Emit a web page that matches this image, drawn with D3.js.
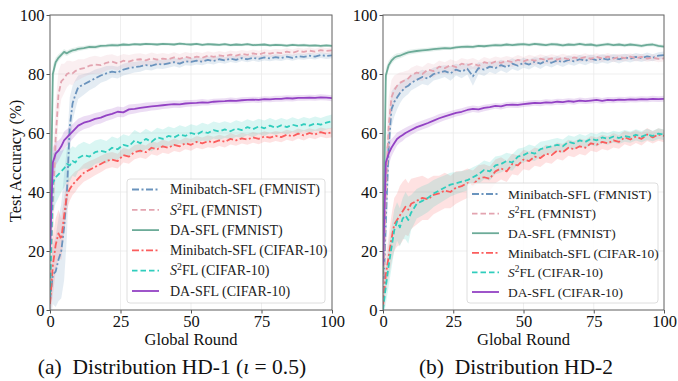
<!DOCTYPE html>
<html>
<head>
<meta charset="utf-8">
<script src="https://cdn.jsdelivr.net/npm/d3@7"></script>
<style>
  body { margin: 0; background: #fff; }
  svg { display: block; font-family: "Liberation Serif", "DejaVu Serif", serif; }
</style>
</head>
<body>
<div id="chart"></div>
<script>
const rounds = [0,1,2,3,4,5,6,7,8,9,10,
  12,14,16,18,20, 22,24,26,28,30, 32,34,36,38,40, 42,44,46,48,50,
  52,54,56,58,60, 62,64,66,68,70, 72,74,76,78,80, 82,84,86,88,90, 92,94,96,98,100];

// ---- (a) HD-1 ----
const hd1MiniF = [3,12,13,17,20,28,40,62,70,73,75.5,
  76.5,77.5,78.5,79.5,80.2, 80.8,80.5,81.5,82,82.3, 82.6,83,82.8,83.4,83.2, 83.6,84,83.5,84.3,84.1,
  84.5,84.2,84.8,84.4,85, 84.6,85.2,84.8,85.4,85, 85.5,85.1,85.6,85.3,85.7, 85.4,85.9,85.5,86,85.8, 86.2,85.9,86.4,86.1,86.3];
const hd1S2F = [5,35,58,73,77.5,78.5,80,80.5,80.2,81,81.5,
  82,82.8,83.2,83,83.8, 84.2,83.6,84.5,84.2,84.8, 85,84.6,85.3,84.9,85.2, 85,85.6,85.1,85.8,85.4,
  85.9,85.5,86.2,85.8,86.3, 86,86.6,86.2,86.8,86.5, 87,86.6,87.2,86.9,87.3, 87.1,87.6,87.2,87.8,87.5, 87.9,87.6,88.1,87.8,88];
const hd1DaF = [20,80,84,85.5,86.5,87.5,87,87.6,88,88.2,88.5,
  88.8,89.2,89.1,89.5,89.6, 89.8,89.7,90,89.9,90.1, 90,90.2,90.1,90,90.2, 90.1,90,90.3,90.1,90,
  90.2,89.9,90.1,90,89.9, 90.1,89.8,90,89.9,90.1, 89.8,89.9,90,89.7,89.9, 89.8,89.6,89.9,89.7,89.8, 89.6,89.7,89.5,89.7,89.5];
const hd1MiniC = [2,15,22,26,24,32,39,41,42.5,43.5,44.5,
  46.5,47.5,48.5,49.5,50.5, 51,50.5,52.5,52,53.5, 54,53.5,55,54.5,55.5, 55,56,55.5,56.5,56,
  57,56.5,57.2,56.8,57.5, 57,58,57.5,58.2,57.8, 58.5,58,58.8,58.4,59, 58.6,59.4,58.9,59.8,59.2, 60,59.5,60.3,59.8,60.2];
const hd1S2C = [5,43,45,46,47,48,49.5,49,50.5,50,51.5,
  52.5,52,53.5,54,53.5, 55,54.5,56,55.5,57.5, 56.5,58,57,58.5,58, 59,58.5,59.5,59,60,
  59.5,60.5,60,61,60.5, 61.2,60.6,61.5,61,62, 61.3,62.2,61.6,62.5,61.8, 62.6,62,62.8,62.3,63, 62.5,63.2,62.8,63.5,64];
const hd1DaC = [20,50,53,54,55.5,57.5,58.5,59.5,60.5,61.5,62.5,
  63.5,64,64.8,65.2,66, 66.5,67.2,67,68,68.2, 68.5,68.8,69,69.2,69.4, 69.6,69.8,69.7,70,70.1,
  70.2,70.4,70.3,70.6,70.7, 70.8,71,70.9,71.1,71.2, 71.3,71.2,71.5,71.4,71.6, 71.6,71.8,71.7,71.9,71.9, 72,71.9,72.1,72,71.8];

// std (shaded band half width)
const hd1MiniFStd = [8,10,12,14,16,18,15,10,6,5,4,
  3.5,3,3,2.5,2.5, 2,2,2,2,1.8, 1.8,1.6,1.6,1.5,1.5, 1.5,1.4,1.4,1.3,1.3,
  1.3,1.2,1.2,1.2,1.2, 1.1,1.1,1.1,1,1, 1,1,1,1,1, 1,1,1,1,1, 1,1,1,1,1];
const hd1S2FStd = [6,15,12,8,6,5,4.5,4,4,3.5,3.5,
  3,3,3,2.8,2.6, 2.5,2.4,2.3,2.2,2.1, 2,2,2,1.9,1.9, 1.8,1.8,1.7,1.7,1.6,
  1.6,1.6,1.5,1.5,1.5, 1.4,1.4,1.4,1.3,1.3, 1.3,1.3,1.2,1.2,1.2, 1.2,1.2,1.1,1.1,1.1, 1.1,1,1,1,1];
const hd1DaFStd = [4,3,1.5,1.2,1,1,0.9,0.9,0.8,0.8,0.8,
  0.7,0.7,0.7,0.6,0.6, 0.6,0.6,0.6,0.5,0.5, 0.5,0.5,0.5,0.5,0.5, 0.5,0.5,0.5,0.5,0.5,
  0.5,0.5,0.5,0.5,0.5, 0.5,0.5,0.5,0.5,0.5, 0.5,0.5,0.5,0.5,0.5, 0.5,0.5,0.5,0.5,0.5, 0.5,0.5,0.5,0.5,0.5];
const hd1MiniCStd = [4,10,9,8,7,6,5,4,3.5,3.5,3,
  3,3,2.8,2.8,2.6, 2.6,2.5,2.5,2.4,2.4, 2.3,2.3,2.2,2.2,2.2, 2.1,2.1,2,2,2,
  2,2,2,1.9,1.9, 1.9,1.9,1.8,1.8,1.8, 1.8,1.8,1.8,1.7,1.7, 1.7,1.7,1.7,1.7,1.7, 1.6,1.6,1.6,1.6,1.6];
const hd1S2CStd = [5,10,9,8,7,6.5,6,5.5,5,5,4.5,
  4.5,4.2,4,4,3.8, 3.8,3.6,3.6,3.5,3.5, 3.4,3.4,3.3,3.3,3.2, 3.2,3.1,3.1,3,3,
  3,3,2.9,2.9,2.9, 2.8,2.8,2.8,2.7,2.7, 2.7,2.6,2.6,2.6,2.5, 2.5,2.5,2.5,2.4,2.4, 2.4,2.4,2.3,2.3,2.3];
const hd1DaCStd = [6,5,4,3.5,3,3,2.8,2.6,2.5,2.4,2.3,
  2.2,2.1,2,2,1.9, 1.8,1.8,1.7,1.7,1.6, 1.5,1.5,1.4,1.4,1.3, 1.3,1.2,1.2,1.2,1.1,
  1.1,1.1,1,1,1, 1,1,1,1,1, 1,1,1,1,1, 1,1,1,1,1, 1,1,1,1,1];

// ---- (b) HD-2 ----
const hd2MiniF = [1,30,55,68,70.5,72,73.5,74.5,75.5,76,77,
  78,79,78.5,80,80.5, 81,80.2,81.5,80.8,81.8, 79.2,82,81.5,82.5,82, 83,82.3,83.5,82.8,83.8,
  83.2,84.2,83.5,84.5,83.8, 84.6,84,84.8,84.3,85, 84.5,85.2,84.7,85.3,84.9, 85.5,85,85.6,85.2,85.8, 85.4,86,85.5,86.2,86.4];
const hd2S2F = [3,40,62,72,74.5,76,77,77.5,78,78.5,79.5,
  80.5,80,81.5,81,82.5, 82,83,82.3,83.5,83, 83.6,82.8,84,83.5,84.2, 83.8,84.5,84,84.8,84.3,
  85,84.5,85.2,84.8,85.3, 84.9,85.5,85,85.6,85.2, 85.7,85.1,85.8,85.3,85.9, 85.2,85.7,85.4,85.9,85.3, 85.8,85.2,85.6,85.1,85.3];
const hd2DaF = [12,79.5,83,84.5,85.5,86,86.2,86.6,87,87.3,87.5,
  87.8,88,88.2,88.4,88.6, 88.8,88.7,89,89.2,89.3, 89.2,89.5,89.4,89.6,89.8, 89.7,90,89.8,90,90.1,
  89.9,90.2,90,89.8,90.1, 90,89.7,90,89.9,90.2, 89.9,90,89.6,89.9,90.1, 89.8,90,89.7,90,89.8, 89.5,89.9,90,89.5,89.3];
const hd2MiniC = [1,12,18,24,29,30.5,32,33.5,35,34,36,
  37,38,37.5,39,39.5, 40.5,40,41.5,42,43, 42.5,44.5,45,44.5,47, 48,47,49.5,49,51,
  50.5,52,51.5,53,52.5, 54,53.5,55,54.5,55.5, 55,56.5,56,57,56.5, 57.5,57,58.5,57.8,58.8, 58,59.5,58.5,59.5,59];
const hd2S2C = [0,8,15,21,27,30,28,31,32,30.5,33,
  36,37,38,39.5,40.5, 41.5,42.5,43,43.5,44, 45,46,47.5,47,49, 49.5,50.5,50,52,52.5,
  53.5,53,54.5,55,55.5, 56,55.5,57,56.5,57.5, 57,58,57.5,58.5,58, 58.8,58.3,59,58.6,59.4, 58.8,59.5,59,59.8,59.4];
const hd2DaC = [15,50,53,55,56.5,58,58.7,59.3,60,60.5,61,
  62,62.7,63.4,64.2,65, 65.6,66.2,66.8,67.2,67.8, 68.2,68,68.5,68.8,69.2, 69,69.5,69.6,69.5,69.8,
  70,70.2,70.1,70.4,70.3, 70.6,70.5,70.8,70.6,71, 70.8,71,71.2,70.9,71.2, 71.1,71.3,71.2,71.4,71.3, 71.5,71.4,71.6,71.5,71.6];

const hd2MiniFStd = [6,12,10,6,5,4,3.5,3,3,2.8,2.6,
  2.5,2.4,2.4,2.2,2.2, 2,2.5,2,2.2,2, 3.2,2,2.2,1.8,2, 1.8,2,1.8,1.8,1.7,
  1.7,1.6,1.8,1.6,1.6, 1.5,1.6,1.5,1.5,1.4, 1.5,1.4,1.4,1.4,1.4, 1.3,1.4,1.3,1.3,1.3, 1.3,1.3,1.2,1.2,1.2];
const hd2S2FStd = [5,14,10,6,5,4,3.5,3.2,3,2.8,2.6,
  2.5,2.4,2.3,2.2,2.1, 2,2,2,1.9,1.9, 1.8,1.8,1.8,1.7,1.7, 1.7,1.6,1.6,1.6,1.5,
  1.5,1.5,1.5,1.4,1.4, 1.4,1.4,1.3,1.3,1.3, 1.3,1.3,1.2,1.2,1.2, 1.2,1.2,1.2,1.1,1.1, 1.1,1.1,1.1,1.1,1.1];
const hd2DaFStd = [4,2.5,1.5,1.2,1,1,0.9,0.9,0.8,0.8,0.8,
  0.8,0.7,0.7,0.7,0.7, 0.6,0.6,0.6,0.6,0.6, 0.6,0.6,0.6,0.6,0.6, 0.6,0.6,0.6,0.6,0.6,
  0.6,0.6,0.6,0.6,0.6, 0.6,0.6,0.6,0.6,0.6, 0.6,0.6,0.6,0.6,0.6, 0.6,0.6,0.6,0.6,0.6, 0.6,0.6,0.6,0.6,0.6];
const hd2MiniCStd = [3,6,7,8,9,9,10,10,9.5,9,8.5,
  8,7.5,7,6.5,6, 6,5.5,5.5,5,5, 4.8,4.6,4.4,4.2,4, 3.8,3.6,3.5,3.4,3.3,
  3.2,3.1,3,3,2.9, 2.8,2.8,2.7,2.7,2.6, 2.6,2.5,2.5,2.4,2.4, 2.4,2.3,2.3,2.3,2.2, 2.2,2.2,2.1,2.1,2.1];
const hd2S2CStd = [3,6,7,7,7,6.5,6.5,7,8,8,6,
  5,5,4.8,4.6,4.4, 4.2,4,3.8,3.6,3.5, 3.4,3.3,3.2,3.1,3, 2.9,2.8,2.8,2.7,2.6,
  2.6,2.5,2.5,2.4,2.4, 2.3,2.3,2.2,2.2,2.2, 2.1,2.1,2.1,2,2, 2,2,2,1.9,1.9, 1.9,1.9,1.8,1.8,1.8];
const hd2DaCStd = [6,5,4,3,2.5,2.2,2,2,1.8,1.8,1.7,
  1.6,1.5,1.5,1.4,1.4, 1.3,1.3,1.2,1.2,1.2, 1.1,1.1,1.1,1,1, 1,1,1,1,1,
  1,1,1,1,1, 1,1,1,1,1, 1,1,1,1,1, 1,1,1,1,1, 1,1,1,1,1];

const xTicks = [0, 25, 50, 75, 100];
const yTicks = [0, 20, 40, 60, 80, 100];

// series styles, legend order
const seriesMeta = [
  { key: 'MiniF', name: 'Minibatch-SFL', ds: 'FMNIST',   color: '#6a93bd', dash: '7,2.5,2,2.5', s2: false },
  { key: 'S2F',   name: 'FL',            ds: 'FMNIST',   color: '#e3a4b0', dash: '5.5,3',       s2: true },
  { key: 'DaF',   name: 'DA-SFL',        ds: 'FMNIST',   color: '#6cab98', dash: null,          s2: false },
  { key: 'MiniC', name: 'Minibatch-SFL', ds: 'CIFAR-10', color: '#fb5d5d', dash: '7,2.5,2,2.5', s2: false },
  { key: 'S2C',   name: 'FL',            ds: 'CIFAR-10', color: '#30cdbd', dash: '5.5,3',       s2: true },
  { key: 'DaC',   name: 'DA-SFL',        ds: 'CIFAR-10', color: '#9342c4', dash: null,          s2: false }
];

const panels = [
  { left: 50, right: 332,
    data: { MiniF: hd1MiniF, S2F: hd1S2F, DaF: hd1DaF, MiniC: hd1MiniC, S2C: hd1S2C, DaC: hd1DaC },
    std:  { MiniF: hd1MiniFStd, S2F: hd1S2FStd, DaF: hd1DaFStd, MiniC: hd1MiniCStd, S2C: hd1S2CStd, DaC: hd1DaCStd },
    legend: { x0: 127, x1: 325, y0: 179, y1: 303, row0: 189.5, step: 20.3, hx0: 132, hx1: 159, tx: 170, fs: 14 } },
  { left: 383, right: 664,
    data: { MiniF: hd2MiniF, S2F: hd2S2F, DaF: hd2DaF, MiniC: hd2MiniC, S2C: hd2S2C, DaC: hd2DaC },
    std:  { MiniF: hd2MiniFStd, S2F: hd2S2FStd, DaF: hd2DaFStd, MiniC: hd2MiniCStd, S2C: hd2S2CStd, DaC: hd2DaCStd },
    legend: { x0: 467, x1: 658, y0: 183, y1: 303, row0: 194, step: 19.6, hx0: 472, hx1: 499, tx: 508, fs: 13.4 } }
];

const W = 678, H = 381;
const plotTop = 15, plotBottom = 310;
const tickFont = 16.5;

const svg = d3.select('#chart').append('svg')
  .attr('width', W).attr('height', H);

panels.forEach((p, pi) => {
  const x = d3.scaleLinear().domain([0, 100]).range([p.left, p.right]);
  const y = d3.scaleLinear().domain([0, 100]).range([plotBottom, plotTop]);
  const g = svg.append('g');

  // clip so bands stay in the axes
  const clipId = 'clip' + pi;
  svg.append('clipPath').attr('id', clipId)
    .append('rect').attr('x', p.left).attr('y', plotTop)
    .attr('width', p.right - p.left).attr('height', plotBottom - plotTop);

  // grid
  g.append('g').selectAll('line').data(xTicks).join('line')
    .attr('x1', d => x(d)).attr('x2', d => x(d)).attr('y1', plotTop).attr('y2', plotBottom)
    .attr('stroke', '#ebebeb').attr('stroke-width', 0.8);
  g.append('g').selectAll('line').data(yTicks).join('line')
    .attr('x1', p.left).attr('x2', p.right).attr('y1', d => y(d)).attr('y2', d => y(d))
    .attr('stroke', '#ebebeb').attr('stroke-width', 0.8);

  const plot = g.append('g').attr('clip-path', `url(#${clipId})`);

  // bands first, then lines
  seriesMeta.forEach(s => {
    const vals = p.data[s.key], sd = p.std[s.key];
    const pts = rounds.map((r, i) => ({ r, v: vals[i], s: sd[i] }));
    const area = d3.area().x(d => x(d.r)).y0(d => y(d.v - d.s)).y1(d => y(d.v + d.s));
    plot.append('path').attr('d', area(pts))
      .attr('fill', s.color).attr('fill-opacity', 0.18);
  });
  seriesMeta.forEach(s => {
    const vals = p.data[s.key];
    const pts = rounds.map((r, i) => ({ r, v: vals[i] }));
    const line = d3.line().x(d => x(d.r)).y(d => y(d.v));
    plot.append('path').attr('d', line(pts))
      .attr('fill', 'none').attr('stroke', s.color).attr('stroke-width', 1.8)
      .attr('stroke-dasharray', s.dash).attr('stroke-linejoin', 'round');
  });

  // axes
  const xAxis = g.append('g').attr('transform', `translate(0,${plotBottom})`)
    .call(d3.axisBottom(x).tickValues(xTicks).tickSize(3.5).tickPadding(2));
  const yAxis = g.append('g').attr('transform', `translate(${p.left},0)`)
    .call(d3.axisLeft(y).tickValues(yTicks).tickSize(3.5).tickPadding(2));
  [xAxis, yAxis].forEach(a => {
    a.select('.domain').remove();
    a.selectAll('line').attr('stroke', '#555');
    a.selectAll('text').attr('fill', '#111')
      .style('font-family', '"Liberation Serif", serif').style('font-size', tickFont + 'px');
  });

  // spines
  g.append('rect').attr('x', p.left).attr('y', plotTop)
    .attr('width', p.right - p.left).attr('height', plotBottom - plotTop)
    .attr('fill', 'none').attr('stroke', '#666').attr('stroke-width', 1);

  g.append('text').attr('x', (p.left + p.right) / 2).attr('y', 345)
    .attr('text-anchor', 'middle').style('font-size', '16.5px').attr('fill', '#111')
    .text('Global Round');

  // legend
  const L = p.legend;
  const lg = g.append('g');
  lg.append('rect').attr('x', L.x0).attr('y', L.y0)
    .attr('width', L.x1 - L.x0).attr('height', L.y1 - L.y0).attr('rx', 3)
    .attr('fill', '#fff').attr('fill-opacity', 0.85)
    .attr('stroke', '#d6d6d6').attr('stroke-width', 0.8);
  seriesMeta.forEach((s, i) => {
    const ry = L.row0 + i * L.step;
    lg.append('line').attr('x1', L.hx0).attr('x2', L.hx1).attr('y1', ry).attr('y2', ry)
      .attr('stroke', s.color).attr('stroke-width', 1.8).attr('stroke-dasharray', s.dash);
    const t = lg.append('text').attr('x', L.tx).attr('y', ry + 4.7)
      .style('font-size', L.fs + 'px').attr('fill', '#222');
    if (s.s2) {
      t.append('tspan').style('font-style', 'italic').text('S');
      t.append('tspan').attr('dy', -5).style('font-size', (L.fs * 0.7) + 'px').text('2');
      t.append('tspan').attr('dy', 5).text(`${s.name} (${s.ds})`);
    } else {
      t.text(`${s.name} (${s.ds})`);
    }
  });
});

// y label (left panel only)
svg.append('text').attr('transform', 'translate(21,161) rotate(-90)')
  .attr('text-anchor', 'middle').style('font-size', '16.5px').attr('fill', '#111')
  .text('Test Accuracy (%)');

// captions
const capA = svg.append('text').attr('x', 172).attr('y', 374)
  .attr('text-anchor', 'middle').style('font-size', '21.5px').attr('fill', '#111');
capA.append('tspan').text('(a)  Distribution HD-1 (');
capA.append('tspan').style('font-style', 'italic').text('\u03B9');
capA.append('tspan').text(' = 0.5)');

svg.append('text').attr('x', 516).attr('y', 374)
  .attr('text-anchor', 'middle').style('font-size', '21.5px').attr('fill', '#111')
  .style('white-space', 'pre')
  .text('(b)  Distribution HD-2');
capA.style('white-space', 'pre');
</script>
</body>
</html>
